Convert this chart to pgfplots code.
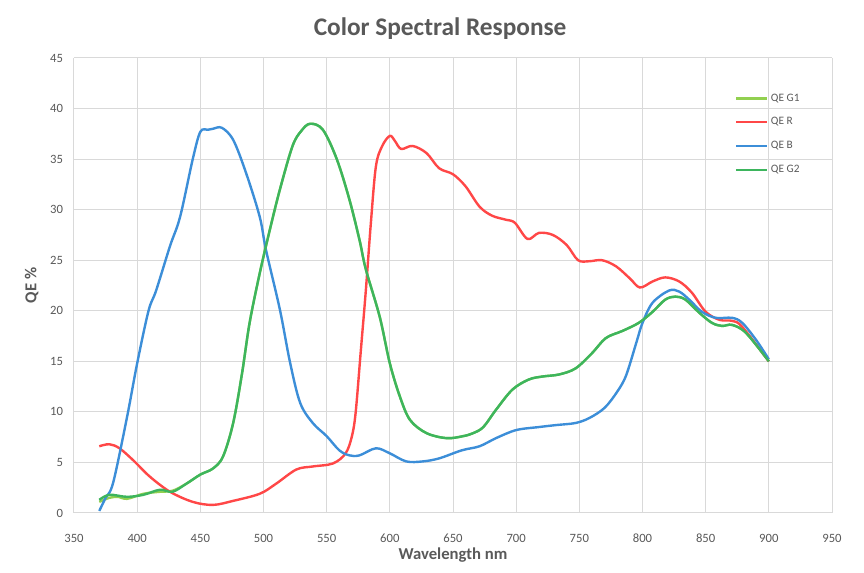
\documentclass[border=0pt]{standalone}
\usepackage{fontspec}
\setmainfont{Carlito}
\usepackage{pgfplots}
\pgfplotsset{compat=1.18}

\definecolor{txtgray}{HTML}{595959}
\definecolor{gridgray}{HTML}{D9D9D9}
\definecolor{qeG1}{HTML}{92D050}
\definecolor{qeR}{HTML}{FF4747}
\definecolor{qeB}{HTML}{3C8ED8}
\definecolor{qeG2}{HTML}{3DB55D}

\begin{document}
\begin{tikzpicture}
\path[use as bounding box] (-55.5pt,-45pt) rectangle (592.5pt,384.75pt);
\begin{axis}[
    scale only axis,
    width=568.5pt, height=341.25pt,
    xmin=350, xmax=950, ymin=0, ymax=45,
    xtick={350,400,...,950}, ytick={0,5,...,45},
    grid=major, major grid style={gridgray, line width=0.75pt},
    axis line style={draw=none},
    major tick length=0pt,
    /pgf/number format/assume math mode=true,
    tick label style={font=\fontsize{9.5}{11}\selectfont, text=txtgray},
    xticklabel style={anchor=base, yshift=-22pt},
    yticklabel style={anchor=east, inner sep=0pt, xshift=-8pt},
    xlabel={Wavelength nm},
    xlabel style={at={(axis description cs:0.5,-0.093)}, anchor=center,
        font=\bfseries\fontsize{12.5}{14}\selectfont, text=txtgray},
    ylabel={QE \%},
    ylabel style={at={(axis description cs:-0.056,0.5)}, anchor=center,
        font=\bfseries\fontsize{12.5}{14}\selectfont, text=txtgray},
    title={Color Spectral Response},
    title style={at={(axis description cs:0.483,1.046)}, anchor=center,
        font=\bfseries\fontsize{19}{22}\selectfont, text=txtgray},
    legend style={at={(rel axis cs:0.872,0.928)}, anchor=north west,
        draw=none, fill=none, inner sep=0pt, row sep=6.9pt,
        font=\fontsize{8.5}{10}\selectfont, text=txtgray},
    legend cell align=left,
    legend image code/.code={\draw[#1] (0pt,0pt) -- (23pt,0pt);},
    every axis plot/.append style={line width=1.8pt, smooth, tension=0.55, mark=none},
]
\addplot[qeG1] coordinates {
(370,1.1) (378,1.5) (385,1.6) (392,1.4) (405,1.9) (418,2.1) (428,2.2)
(439,2.9) (450,3.8) (460,4.4) (468,5.6) (476,8.9) (483,13.8) (489,18.8)
(497,23.7) (505,28) (513,32) (523,36.3) (530,37.8) (537,38.5) (547,37.9)
(558,35) (568,31) (576,27) (581,24.1) (592,19.4) (600,14.8) (608,11.5)
(616,9.2) (629,7.9) (645,7.4) (658,7.6) (666,7.9) (674,8.5) (684,10.2)
(697,12.2) (710,13.2) (721,13.5) (734,13.7) (747,14.3) (760,15.8) (771,17.3)
(784,18) (797,18.8) (808,19.9) (818,21.1) (826,21.4) (834,21.1) (845,19.8)
(855,18.8) (863,18.5) (871,18.6) (882,17.8) (900,15)
};
\addplot[qeR] coordinates {
(370,6.6) (378,6.8) (386,6.4) (397,5.2) (410,3.6) (426,2.1) (444,1.1)
(460,0.8) (476,1.2) (497,1.9) (510,2.9) (526,4.3) (539,4.6) (555,4.9)
(565,5.9) (570,7.6) (573,10) (577,16) (581,22) (585,28.7) (589,34.3)
(594,36.3) (600,37.3) (604,36.8) (609,36) (618,36.3) (629,35.6) (639,34.1)
(650,33.5) (660,32.3) (671,30.3) (681,29.4) (692,29) (699,28.7) (709,27.1)
(718,27.7) (729,27.5) (740,26.5) (749,25) (758,24.9) (768,25) (779,24.4)
(790,23.2) (798,22.3) (808,22.9) (818,23.3) (829,22.9) (839,21.8) (850,19.9)
(861,19.1) (871,19) (879,18.4) (900,15)
};
\addplot[qeB] coordinates {
(370,0.2) (375,1.5) (381,3) (392,9.5) (400,14.8) (409,20) (415,22)
(426,26.4) (434,29.3) (444,35) (450,37.7) (456,37.9) (460,38) (467,38.1)
(476,36.9) (486,33.7) (497,29.3) (502,26) (513,20.1) (521,14.9) (529,10.9)
(539,8.9) (550,7.6) (560,6.2) (568,5.7) (576,5.7) (589,6.4) (600,5.9)
(613,5.1) (626,5.1) (639,5.4) (657,6.2) (671,6.6) (684,7.4) (700,8.2)
(718,8.5) (732,8.7) (747,8.9) (758,9.4) (770,10.4) (780,12) (787,13.6)
(795,16.8) (800,18.8) (808,20.8) (821,22) (829,21.9) (837,21.1) (847,19.9)
(858,19.3) (871,19.3) (879,18.8) (890,17.1) (900,15.2)
};
\addplot[qeG2] coordinates {
(370,1.3) (378,1.8) (392,1.6) (405,1.8) (418,2.3) (428,2.1) (439,2.9)
(450,3.8) (460,4.4) (468,5.6) (476,8.9) (483,13.8) (489,18.8) (497,23.7)
(505,28) (513,32) (523,36.3) (530,37.8) (537,38.5) (547,37.9) (558,35)
(568,31) (576,27) (581,24.1) (592,19.4) (600,14.8) (608,11.5) (616,9.2)
(629,7.9) (645,7.4) (658,7.6) (666,7.9) (674,8.5) (684,10.2) (697,12.2)
(710,13.2) (721,13.5) (734,13.7) (747,14.3) (760,15.8) (771,17.3) (784,18)
(797,18.8) (808,19.9) (818,21.1) (826,21.4) (834,21.1) (845,19.8) (855,18.8)
(863,18.5) (871,18.6) (882,17.8) (900,15)
};
\legend{QE G1, QE R, QE B, QE G2}
\end{axis}
\end{tikzpicture}
\end{document}
